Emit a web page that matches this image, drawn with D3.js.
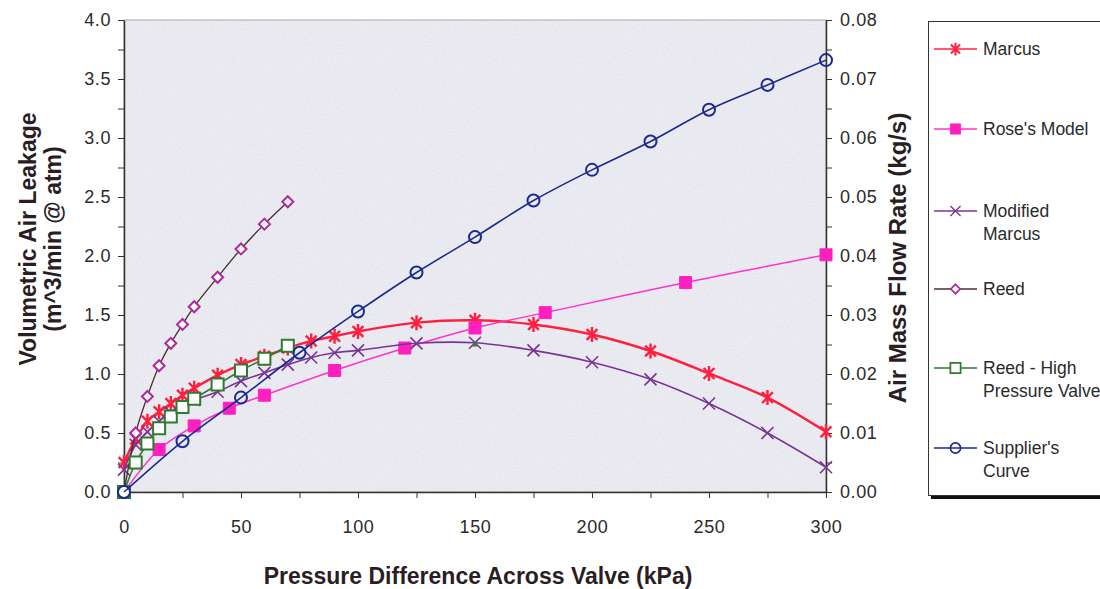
<!DOCTYPE html>
<html>
<head>
<meta charset="utf-8">
<script src="https://cdn.jsdelivr.net/npm/d3@7"></script>
<style>
  body { margin: 0; background: #fff; }
  svg { display: block; font-family: "Liberation Sans", Arial, sans-serif; }
  .tick text { font-size: 18px; fill: #2a2a2a; letter-spacing: 0.6px; }
  .axis-title { font-size: 23px; font-weight: bold; fill: #2a1e24; }
  .legend text { font-size: 17.5px; fill: #2a2a2a; }
</style>
</head>
<body>
<svg width="1100" height="589"></svg>
<script>
// data (kPa -> m^3/min)
var marcusX = [0, 5, 10, 15, 20, 25, 30, 40, 50, 60, 70, 80, 90, 100, 125, 150, 175, 200, 225, 250, 275, 300];
var marcusY = [0.25, 0.45, 0.60, 0.68, 0.75, 0.82, 0.88, 0.99, 1.08, 1.15, 1.22, 1.28, 1.32, 1.36, 1.435, 1.455, 1.42, 1.335, 1.195, 1.005, 0.80, 0.51];
var roseX = [0, 15, 30, 45, 60, 90, 120, 150, 180, 240, 300];
var roseY = [0, 0.36, 0.56, 0.71, 0.82, 1.03, 1.22, 1.39, 1.52, 1.775, 2.01];
var modX = [0, 5, 10, 15, 20, 25, 30, 40, 50, 60, 70, 80, 90, 100, 125, 150, 175, 200, 225, 250, 275, 300];
var modY = [0.19, 0.40, 0.51, 0.60, 0.67, 0.73, 0.78, 0.85, 0.94, 1.01, 1.08, 1.14, 1.18, 1.20, 1.26, 1.265, 1.20, 1.10, 0.955, 0.75, 0.50, 0.21];
var reedX = [0, 5, 10, 15, 20, 25, 30, 40, 50, 60, 70];
var reedY = [0, 0.50, 0.81, 1.07, 1.26, 1.42, 1.57, 1.82, 2.06, 2.27, 2.46];
var hpX = [0, 5, 10, 15, 20, 25, 30, 40, 50, 60, 70];
var hpY = [0, 0.25, 0.41, 0.54, 0.64, 0.72, 0.79, 0.91, 1.03, 1.13, 1.24];
var supX = [0, 25, 50, 75, 100, 125, 150, 175, 200, 225, 250, 275, 300];
var supY = [0, 0.43, 0.80, 1.18, 1.53, 1.86, 2.16, 2.47, 2.73, 2.97, 3.24, 3.45, 3.66];
// stray little marker at 150 kPa
var strayX = [150];
var strayY = [1.25];

var xTicks = [0, 50, 100, 150, 200, 250, 300];
var yTicks = [0, 0.5, 1.0, 1.5, 2.0, 2.5, 3.0, 3.5, 4.0];
var y2Ticks = [0, 0.01, 0.02, 0.03, 0.04, 0.05, 0.06, 0.07, 0.08];

var svg = d3.select("svg"),
    margin = {top: 20, right: 274, bottom: 97, left: 124},
    width = 1100 - margin.left - margin.right,
    height = 589 - margin.top - margin.bottom;

var x = d3.scaleLinear().domain([0, 300]).range([margin.left, margin.left + width]),
    y = d3.scaleLinear().domain([0, 4]).range([margin.top + height, margin.top]),
    y2 = d3.scaleLinear().domain([0, 0.08]).range([margin.top + height, margin.top]);

// noise texture for the plot area
var defs = svg.append("defs");
var f = defs.append("filter").attr("id", "grain").attr("x", 0).attr("y", 0).attr("width", 1).attr("height", 1);
f.append("feTurbulence").attr("type", "fractalNoise").attr("baseFrequency", 0.9).attr("numOctaves", 1).attr("seed", 3);
f.append("feColorMatrix").attr("values", "0 0 0 0 0.5  0 0 0 0 0.5  0 0 0 0 0.65  0 0 0 1.1 -0.45");

svg.append("rect")
    .attr("x", margin.left).attr("y", margin.top)
    .attr("width", width).attr("height", height)
    .attr("fill", "#ececf2")
    .attr("stroke", "#a4a4ae");
svg.append("rect")
    .attr("x", margin.left).attr("y", margin.top)
    .attr("width", width).attr("height", height)
    .attr("filter", "url(#grain)")
    .attr("opacity", 0.5);

// axes
var xAxis = svg.append("g")
    .attr("transform", "translate(0," + (margin.top + height) + ")")
    .call(d3.axisBottom(x).tickValues(d3.range(0, 301, 25)).tickSize(6).tickSizeOuter(0)
        .tickFormat(function(d) { return xTicks.indexOf(d) >= 0 ? d : ""; }));
xAxis.selectAll(".tick text").attr("dy", "1.75em");

var yAxis = svg.append("g")
    .attr("transform", "translate(" + margin.left + ",0)")
    .call(d3.axisLeft(y).tickValues(d3.range(0, 4.01, 0.25)).tickSize(6).tickSizeOuter(0)
        .tickFormat(function(d) { return yTicks.indexOf(d) >= 0 ? d3.format(".1f")(d) : ""; }));
yAxis.selectAll(".tick text").attr("x", -13);

var y2Axis = svg.append("g")
    .attr("transform", "translate(" + (margin.left + width) + ",0)")
    .call(d3.axisRight(y2).tickValues(d3.range(0, 0.0801, 0.005)).tickSize(6).tickSizeOuter(0)
        .tickFormat(function(d) {
            var hit = y2Ticks.some(function(t) { return Math.abs(t - d) < 1e-9; });
            return hit ? d3.format(".2f")(d) : "";
        }));
y2Axis.selectAll(".tick text").attr("x", 14);

svg.selectAll(".domain").attr("stroke", "#333").attr("stroke-width", 1.5);
svg.selectAll(".tick line").attr("stroke", "#333");

// axis titles
svg.append("text").attr("class", "axis-title")
    .attr("transform", "translate(36,239) rotate(-90)")
    .attr("text-anchor", "middle").text("Volumetric Air Leakage");
svg.append("text").attr("class", "axis-title")
    .attr("transform", "translate(61,239) rotate(-90)")
    .attr("text-anchor", "middle").text("(m^3/min @ atm)");
svg.append("text").attr("class", "axis-title")
    .attr("transform", "translate(906,258) rotate(-90)")
    .attr("text-anchor", "middle").style("font-size", "24px").text("Air Mass Flow Rate (kg/s)");
svg.append("text").attr("class", "axis-title")
    .attr("x", 478).attr("y", 584)
    .attr("text-anchor", "middle").text("Pressure Difference Across Valve (kPa)");

// marker shapes
function starPath(s) {
    var r = s / 2, d = r * 0.72;
    return "M" + (-d) + "," + (-d) + "L" + d + "," + d +
           "M" + (-d) + "," + d + "L" + d + "," + (-d) +
           "M0," + (-r) + "L0," + r;
}
function crossPath(s) {
    var r = s / 2;
    return "M" + (-r) + "," + (-r) + "L" + r + "," + r + "M" + (-r) + "," + r + "L" + r + "," + (-r);
}
function squarePath(s) {
    var r = s / 2;
    return "M" + (-r) + "," + (-r) + "H" + r + "V" + r + "H" + (-r) + "Z";
}
function diamondPath(s) {
    var r = s / 2;
    return "M0," + (-r) + "L" + r + ",0L0," + r + "L" + (-r) + ",0Z";
}
function circlePath(s) {
    var r = s / 2;
    return "M" + r + ",0A" + r + "," + r + " 0 1,1 " + (-r) + ",0A" + r + "," + r + " 0 1,1 " + r + ",0Z";
}
function triPath(s) {
    var r = s / 2;
    return "M0," + (-r) + "L" + r + "," + r + "L" + (-r) + "," + r + "Z";
}

var series = [
    {name: ["Marcus"], xs: marcusX, ys: marcusY, line: "#ff2040", lw: 2.4,
     shape: starPath, size: 15, mStroke: "#ff2040", mFill: "none", mw: 2.4},
    {name: ["Rose's Model"], xs: roseX, ys: roseY, line: "#ff33cc", lw: 1.5,
     shape: squarePath, size: 12, mStroke: "#ff1fbf", mFill: "#ff1fbf", mw: 1},
    {name: ["Modified", "Marcus"], xs: modX, ys: modY, line: "#7a3496", lw: 1.6,
     shape: crossPath, size: 12, mStroke: "#7a3496", mFill: "none", mw: 1.6},
    {name: ["Reed"], xs: reedX, ys: reedY, line: "#4a2c2c", lw: 1.3,
     shape: diamondPath, size: 11, mStroke: "#b0289e", mFill: "#fff", mw: 2},
    {name: ["Reed - High", "Pressure Valve"], xs: hpX, ys: hpY, line: "#2e7a2e", lw: 1.6,
     shape: squarePath, size: 12, mStroke: "#2e7a2e", mFill: "#fff", mw: 2},
    {name: ["Supplier's", "Curve"], xs: supX, ys: supY, line: "#1b2a8e", lw: 1.6,
     shape: circlePath, size: 12, mStroke: "#1b2a8e", mFill: "none", mw: 2}
];

var line = d3.line()
    .x(function(d) { return x(d[0]); })
    .y(function(d) { return y(d[1]); })
    .curve(d3.curveCatmullRom.alpha(0.5));

var plot = svg.append("g");
series.forEach(function(s) {
    var pts = s.xs.map(function(v, i) { return [v, s.ys[i]]; });
    plot.append("path")
        .attr("d", line(pts))
        .attr("fill", "none")
        .attr("stroke", s.line)
        .attr("stroke-width", s.lw);
    plot.selectAll(null).data(pts).enter().append("path")
        .attr("transform", function(d) { return "translate(" + x(d[0]) + "," + y(d[1]) + ")"; })
        .attr("d", s.shape(s.size))
        .attr("fill", s.mFill)
        .attr("stroke", s.mStroke)
        .attr("stroke-width", s.mw);
});

// the stray tiny green marker
plot.selectAll(null).data(strayX).enter().append("path")
    .attr("transform", function(d, i) { return "translate(" + x(d) + "," + (y(strayY[i]) - 1) + ")"; })
    .attr("d", triPath(6))
    .attr("fill", "#2e8a2e");

// legend
var lg = svg.append("g").attr("class", "legend");
lg.append("rect").attr("x", 931).attr("y", 25).attr("width", 200).attr("height", 474).attr("fill", "#111");
lg.append("rect").attr("x", 928.5).attr("y", 21.5).attr("width", 200).attr("height", 474)
    .attr("fill", "#fff").attr("stroke", "#333").attr("stroke-width", 1);

var legendY = [49, 129, 211, 289, 368, 448];
series.forEach(function(s, i) {
    var yy = legendY[i];
    lg.append("line").attr("x1", 934).attr("x2", 977).attr("y1", yy).attr("y2", yy)
        .attr("stroke", s.line).attr("stroke-width", Math.min(s.lw, 1.6));
    lg.append("path").attr("transform", "translate(955.5," + yy + ")")
        .attr("d", s.shape(s.size * 0.85))
        .attr("fill", s.mFill).attr("stroke", s.mStroke).attr("stroke-width", s.mw * 0.85);
    s.name.forEach(function(t, j) {
        lg.append("text").attr("x", 983).attr("y", yy + 6 + j * 23).text(t);
    });
});
</script>
</body>
</html>
